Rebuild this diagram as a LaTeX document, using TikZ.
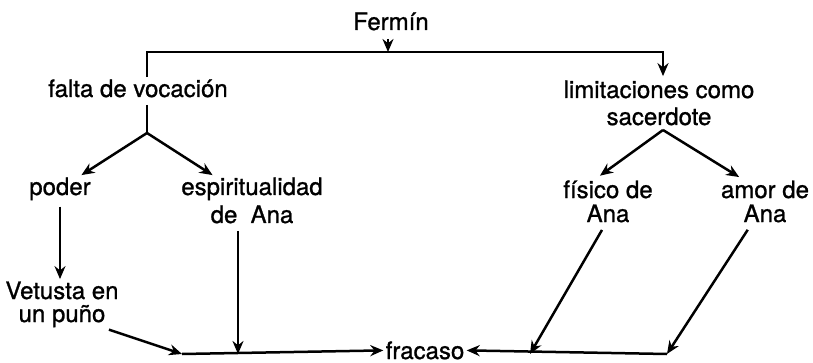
\documentclass[tikz,border=0pt]{standalone}
\usepackage{fontspec}
\setmainfont{TeX Gyre Heros}[FakeBold=1]
\usetikzlibrary{arrows.meta,calc}
\begin{document}
\begin{tikzpicture}[x=0.5pt,y=-0.5pt,
  every node/.style={inner sep=1pt,font=\fontsize{12}{13.5}\selectfont},
  lbl/.style={anchor=base,align=center},
  arr/.style={line width=1.25pt,-{Stealth[length=6.5pt,width=5.5pt]}},
  ln/.style={line width=1.25pt}]
\useasboundingbox (0,0) rectangle (813,363);
% nodes (multi-line nodes are placed by the baseline of their last line)
\node[lbl] (fermin) at (391,30) {Fermín};
\node[lbl] (falta) at (138,97) {falta de vocación};
\node[lbl,font=\fontsize{12}{13.5}\selectfont] (lim) at (659,125) {limitaciones como\\sacerdote};
\node[lbl] (poder) at (60,195) {poder};
\node[lbl,font=\fontsize{12}{14}\selectfont] (espir) at (252,223) {espiritualidad\\de\hspace{0.55em}Ana};
\node[lbl,font=\fontsize{12}{12}\selectfont] (fis) at (608,222) {físico de\\Ana};
\node[lbl,font=\fontsize{12}{12}\selectfont] (amor) at (765,222) {amor de\\Ana};
\node[lbl,font=\fontsize{12}{11.5}\selectfont] (vet) at (62,322) {Vetusta en\\un puño};
\node[lbl] (fracaso) at (425,359) {fracaso};
% coordinates
\coordinate (fdown) at (388,52);
\coordinate (barL) at (147,52);
\coordinate (barR) at (663,52);
\coordinate (fsplit) at (147,133);
\coordinate (lsplit) at (663,130);
\coordinate (bl) at (182,354);
\coordinate (bA) at (238,354);
\coordinate (bf) at (530,354);
\coordinate (br) at (667,354);
% connectors
\draw[arr,shorten <=3pt] (fermin.south -| fdown) -- (fdown);
\draw[arr,shorten >=1pt] (falta.north -| barL) -- (barL) -- (barR) -- (lim.north -| barR);
\draw[ln,shorten <=2.5pt] (falta.south -| fsplit) -- (fsplit);
\draw[arr] (fsplit) -- (poder);
\draw[arr] (fsplit) -- ($(espir.north west)!0.23!(espir.north east)$);
\draw[arr,shorten >=2pt] (lsplit) -- ($(fis.north west)!0.38!(fis.north east)$);
\draw[arr,shorten >=1pt] (lsplit) -- ($(amor.north west)!0.24!(amor.north east)$);
\draw[arr,shorten <=2pt] (poder.south) -- (poder.south |- vet.north);
\draw[arr] ([xshift=-6pt]vet.south east) -- (bl);
\draw[arr,shorten <=2.5pt] (espir.south -| bA) -- (bA);
\draw[arr] (bl) -- (fracaso.west);
\draw[arr] (br) -- (fracaso.east);
\draw[arr,shorten <=3pt] ([xshift=-1.5pt]fis.south) -- (bf);
\draw[arr,shorten <=3pt] ([xshift=-7pt]amor.south) -- (br);
\end{tikzpicture}
\end{document}
